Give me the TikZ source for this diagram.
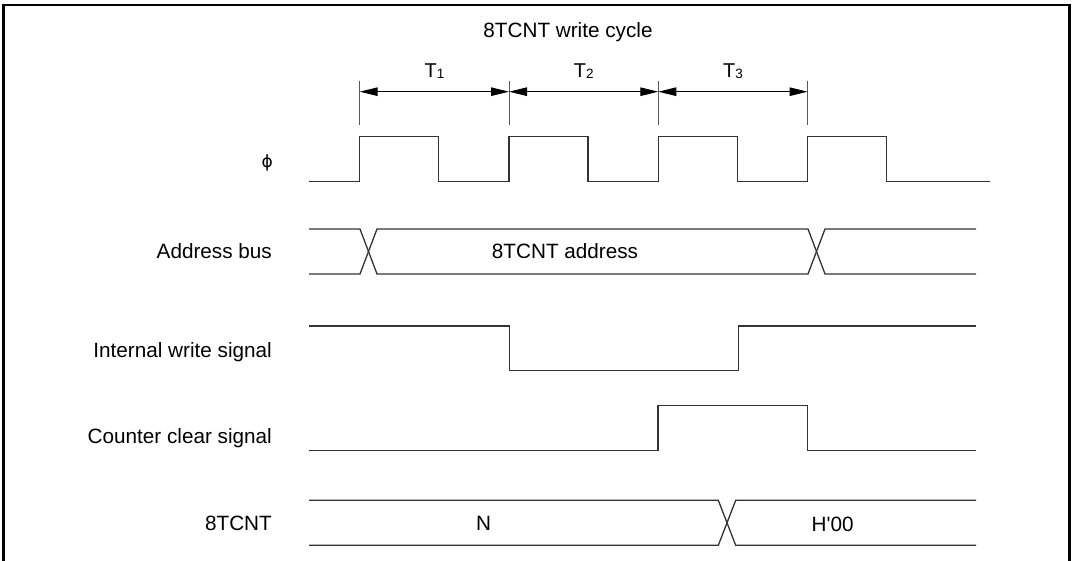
\documentclass[tikz,border=0pt]{standalone}
\usepackage{fontspec}
\setmainfont{Liberation Sans}
\newfontfamily\phifont{DejaVu Sans}
\usetikzlibrary{arrows.meta}
\begin{document}
\begin{tikzpicture}[x=1pt,y=-1pt,
  wave/.style={line width=1.3pt, draw=black!80, line join=miter},
  lbl/.style={inner sep=0pt, font=\fontsize{20.7}{24}\selectfont},
  tlbl/.style={inner sep=0pt, font=\fontsize{20}{22}\selectfont},
  tickline/.style={line width=1pt, draw=black!65},
  dimline/.style={line width=1pt, {Triangle[length=18pt,width=8.5pt]}-{Triangle[length=18pt,width=8.5pt]}}]
\useasboundingbox (0,0) rectangle (1073,561);
% frame
\draw[line width=2.2pt] (3.5,561) -- (3.5,5) -- (1069.5,5) -- (1069.5,561);

% title
\node[lbl, anchor=base] (title) at (568,38) {8TCNT write cycle};

% cycle boundaries
\foreach \x/\n in {359.7/1,509/2,658.3/3,807.6/4}{
  \coordinate (tt\n) at (\x,80.7);
  \coordinate (tb\n) at (\x,125.3);
  \coordinate (ta\n) at (\x,91.7);
}
\foreach \n in {1,2,3,4}{\draw[tickline] (tt\n) -- (tb\n);}
\draw[dimline] (ta1) -- (ta2);
\draw[dimline] (ta2) -- (ta3);
\draw[dimline] (ta3) -- (ta4);
\node[tlbl, anchor=base] (T1) at (434.4,77.3) {T\raisebox{-1.3pt}{\fontsize{13.5}{14}\selectfont 1}};
\node[tlbl, anchor=base] (T2) at (583.7,77.3) {T\raisebox{-1.3pt}{\fontsize{13.5}{14}\selectfont 2}};
\node[tlbl, anchor=base] (T3) at (733.0,77.3) {T\raisebox{-1.3pt}{\fontsize{13.5}{14}\selectfont 3}};

% signal names
\node[inner sep=0pt, font=\phifont\fontsize{17}{19}\selectfont] (lphi) at (267.3,162.5) {ϕ};
\node[lbl, anchor=base east] (laddr) at (272,259) {Address bus};
\node[lbl, anchor=base east] (lwr) at (272,357.3) {Internal write signal};
\node[lbl, anchor=base east] (lclr) at (272,443.3) {Counter clear signal};
\node[lbl, anchor=base east] (lcnt) at (272,530.7) {8TCNT};

% phi clock
\draw[wave] (309,181.3) -- (359.7,181.3) -- (359.7,136.3) -- (438.7,136.3) -- (438.7,181.3)
  -- (509,181.3) -- (509,136.3) -- (588,136.3) -- (588,181.3)
  -- (658.3,181.3) -- (658.3,136.3) -- (737.3,136.3) -- (737.3,181.3)
  -- (807.6,181.3) -- (807.6,136.3) -- (886.6,136.3) -- (886.6,181.3) -- (990,181.3);

% address bus
\draw[wave] (309,229) -- (360,229) -- (377,274) -- (808,274) -- (825,229) -- (976,229);
\draw[wave] (309,274) -- (360,274) -- (377,229) -- (808,229) -- (825,274) -- (976,274);
\node[lbl, anchor=base] (vaddr) at (565,258.3) {8TCNT address};

% internal write signal
\draw[wave] (309,326) -- (509.3,326) -- (509.3,370.7) -- (738.7,370.7) -- (738.7,326) -- (976,326);

% counter clear signal
\draw[wave] (309,450.3) -- (658,450.3) -- (658,405.7) -- (807.7,405.7) -- (807.7,450.3) -- (976,450.3);

% 8TCNT
\draw[wave] (309,500.3) -- (718.3,500.3) -- (735.7,545.3) -- (976,545.3);
\draw[wave] (309,545.3) -- (718.3,545.3) -- (735.7,500.3) -- (976,500.3);
\node[lbl, anchor=base] (vn) at (483.7,530.7) {N};
\node[lbl, anchor=base] (vh) at (832.7,531) {H\textquotesingle 00};
\end{tikzpicture}
\end{document}
